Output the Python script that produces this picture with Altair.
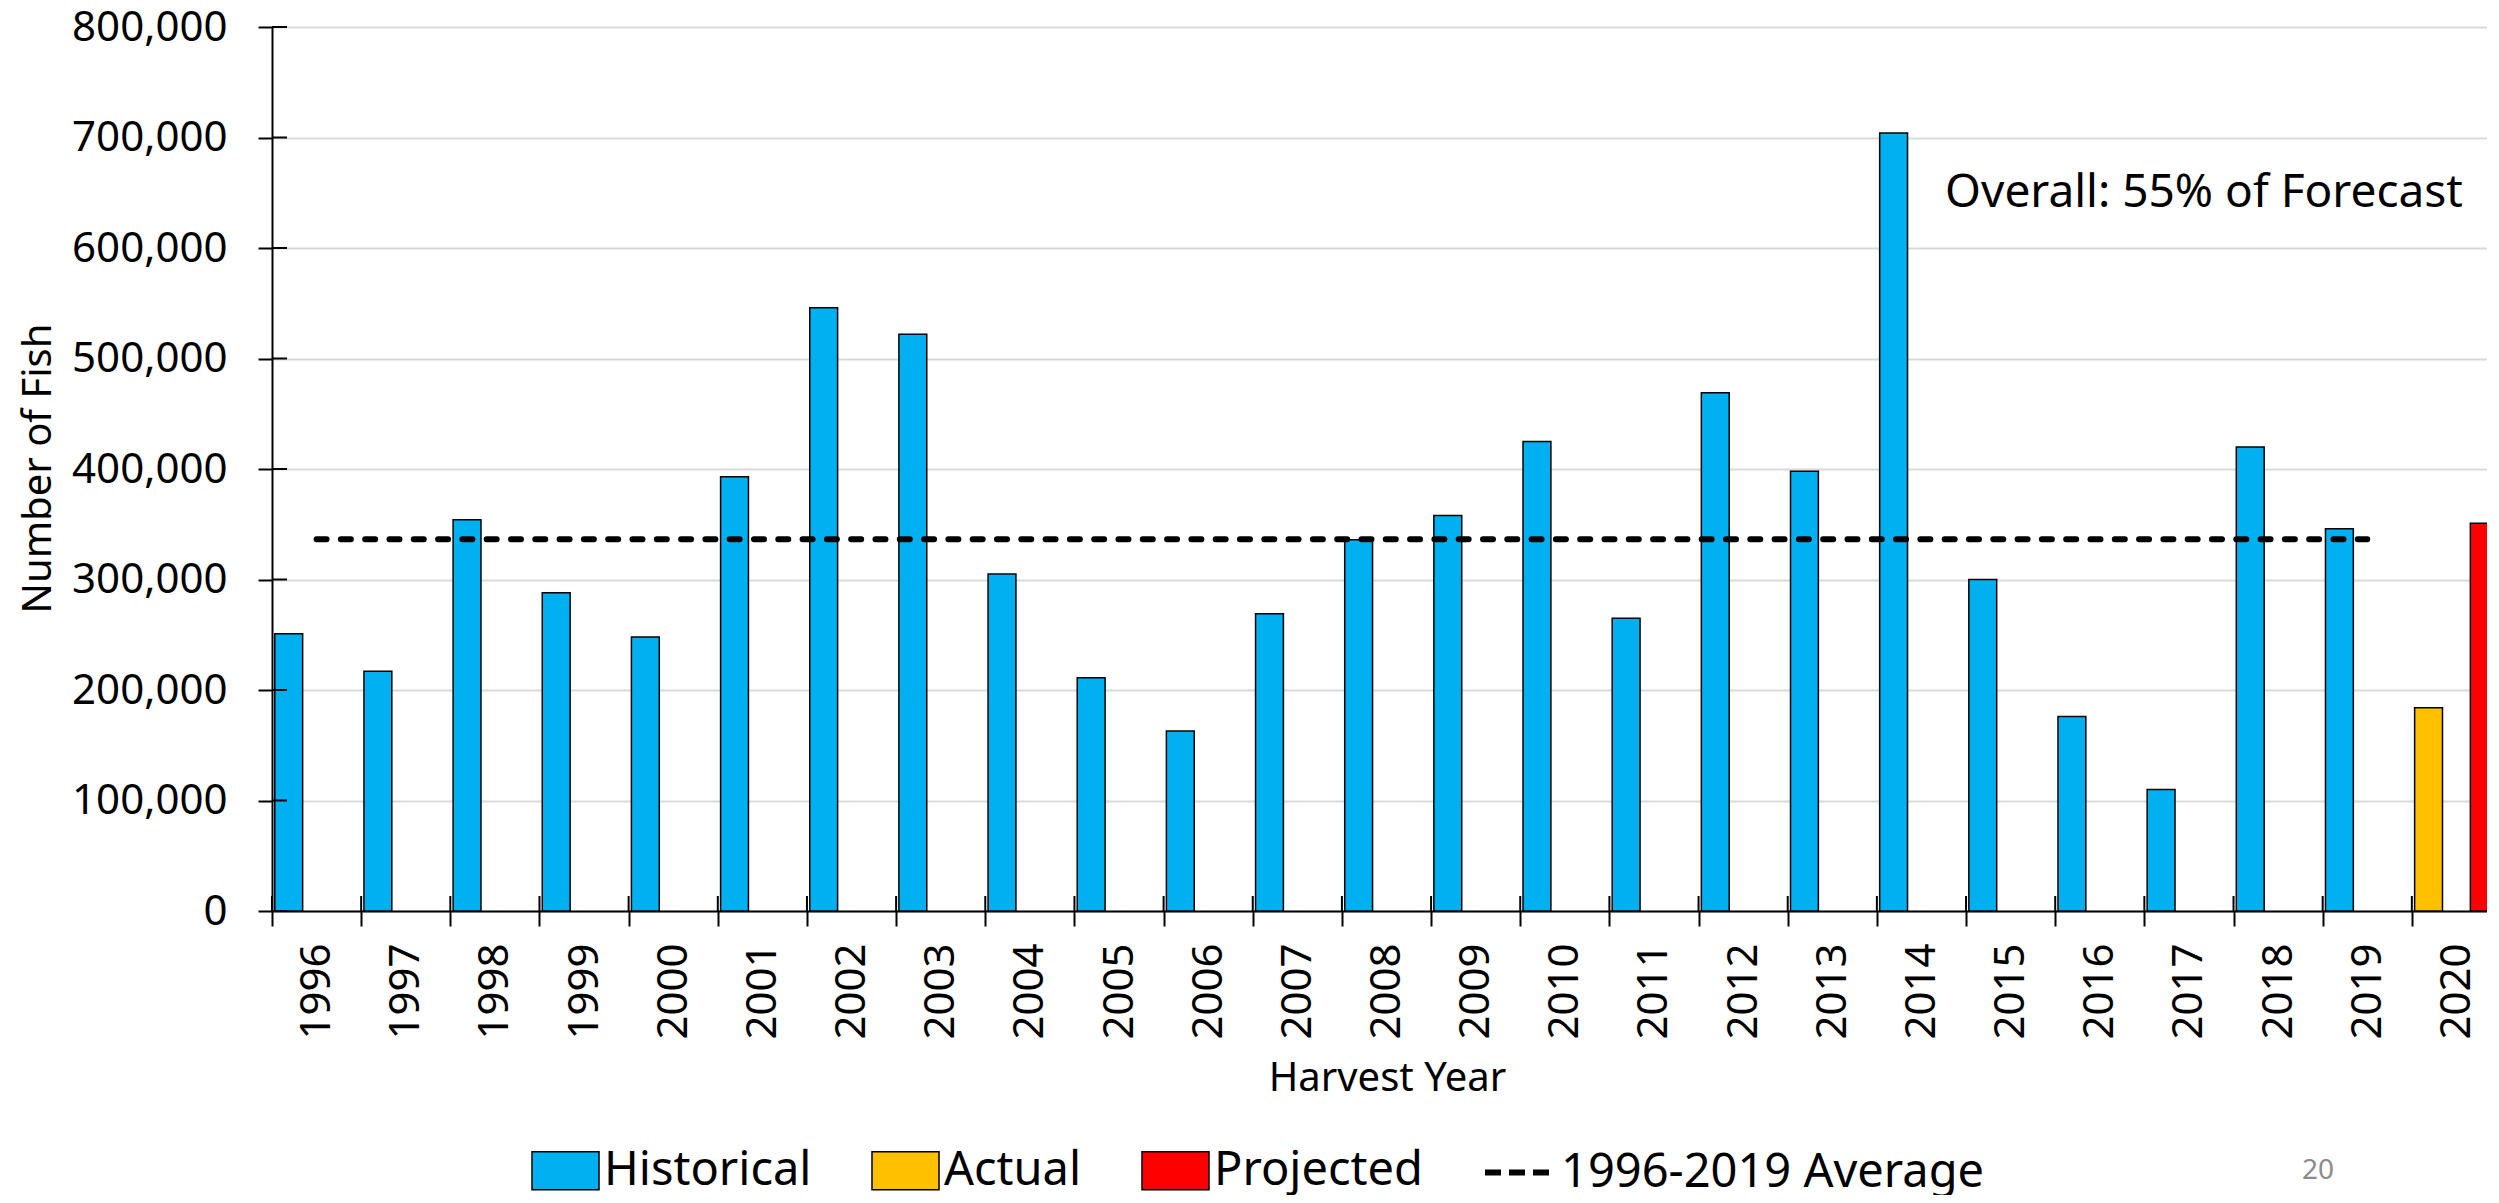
import altair as alt
import pandas as pd

# ---- data ----
years = [str(y) for y in range(1996, 2021)]
hist_years = years[:-1]
historical = [251000, 217000, 354000, 288000, 248000, 393000, 546000, 522000,
              305000, 211000, 163000, 269000, 336000, 358000, 425000, 265000,
              469000, 398000, 704000, 300000, 176000, 110000, 420000, 346000]
actual_2020 = 184000
projected_2020 = 351000
series_names = ["Historical", "Actual", "Projected"]
series_colors = ["#00B0F0", "#FFC000", "#FF0000"]
avg_label = "1996-2019 Average"
y_ticks = list(range(0, 800001, 100000))
annotation_text = "Overall: 55% of Forecast"
page_number = "20"

# ---- tables ----
bars_df = pd.DataFrame({
    "year": hist_years + ["2020", "2020"],
    "value": historical + [actual_2020, projected_2020],
    "series": ["Historical"] * len(hist_years) + ["Actual", "Projected"],
    "slot": [0] * len(hist_years) + [0, 2],
})
avg_value = sum(historical) / len(historical)
avg_df = pd.DataFrame({"year": hist_years, "value": [avg_value] * len(hist_years),
                       "label": [avg_label] * len(hist_years)})

W, H, XR = 2215, 884, 2229
FONT = "Noto Sans"

x_scale = alt.Scale(domain=years, range=[0, XR], paddingInner=0, paddingOuter=0)
y_scale = alt.Scale(domain=[0, 800000])

x_axis = alt.Axis(labelAngle=270, labelFontSize=42, labelColor="black", labelPadding=17,
                  tickSize=15, tickWidth=2, tickColor="black", tickBand="extent",
                  domainColor="black", domainWidth=2, grid=False,
                  titleFontSize=40, titleFontWeight="normal", titleColor="black",
                  titleX=1115, titleY=179, titleBaseline="alphabetic", titleAlign="center")
y_axis = alt.Axis(values=y_ticks, format=",d", labelFontSize=42, labelColor="black",
                  labelPadding=31, tickSize=14, tickWidth=2, tickColor="black",
                  domainColor="black", domainWidth=2, gridColor="#d9d9d9", gridWidth=2,
                  titleFontSize=40, titleFontWeight="normal", titleColor="black",
                  titleX=-222, titleY=441, titleAngle=270, titleBaseline="alphabetic",
                  titleAlign="center")

bars = alt.Chart(bars_df).mark_bar(stroke="black", strokeWidth=1.5).encode(
    x=alt.X("year:N", scale=x_scale, axis=x_axis, title="Harvest Year"),
    xOffset=alt.XOffset("slot:O", scale=alt.Scale(domain=[0, 1, 2], paddingInner=0, paddingOuter=0.1)),
    y=alt.Y("value:Q", scale=y_scale, axis=y_axis, title="Number of Fish"),
    fill=alt.Fill("series:N", scale=alt.Scale(domain=series_names, range=series_colors),
                  title=None,
                  legend=alt.Legend(orient="none", legendX=259, legendY=1109, direction="horizontal",
                                    symbolType="M-1,-0.567H1V0.567H-1Z", symbolSize=4489,
                                    symbolStrokeColor="black", symbolStrokeWidth=1.5,
                                    labelFontSize=47, labelColor="black", labelOffset=4,
                                    labelLimit=800, columnPadding=57, padding=0)),
)

avg_line = alt.Chart(avg_df).mark_line(strokeWidth=6, strokeDash=[10, 14.3], strokeCap="round").encode(
    x=alt.X("year:N"),
    y=alt.Y("value:Q"),
    stroke=alt.Stroke("label:N", scale=alt.Scale(domain=[avg_label], range=["black"]), title=None,
                      legend=alt.Legend(orient="none", legendX=1210, legendY=1108,
                                        symbolType="stroke", symbolSize=4761, symbolStrokeWidth=6,
                                        symbolDash=[16, 8], labelFontSize=47, labelColor="black",
                                        labelOffset=4, labelLimit=800, padding=0)),
)

x_inner_ticks = alt.Chart(pd.DataFrame({"year": years})).mark_rule(color="black", strokeWidth=2).encode(
    x=alt.X("year:N", bandPosition=0), y=alt.value(H - 15), y2=alt.value(H))
y_inner_ticks = alt.Chart(pd.DataFrame({"v": y_ticks})).mark_rule(color="black", strokeWidth=2).encode(
    y=alt.Y("v:Q"), x=alt.value(0), x2=alt.value(15))

note = alt.Chart(pd.DataFrame({"t": [annotation_text]})).mark_text(
    fontSize=46, align="center", baseline="alphabetic", color="black").encode(
    text="t:N", x=alt.value(1932), y=alt.value(180))
page = alt.Chart(pd.DataFrame({"t": [page_number]})).mark_text(
    fontSize=28, align="center", baseline="alphabetic", color="#8c8c8c").encode(
    text="t:N", x=alt.value(2046), y=alt.value(1152))

chart = alt.layer(bars, avg_line, x_inner_ticks, y_inner_ticks, note, page).properties(
    width=W, height=H,
    autosize=alt.AutoSizeParams(type="none"),
    padding={"left": 264, "top": 19, "right": 0, "bottom": 284},
).configure(font=FONT).configure_view(strokeWidth=0)

chart.save("out.html", embed_options={"renderer": "svg", "actions": False})
